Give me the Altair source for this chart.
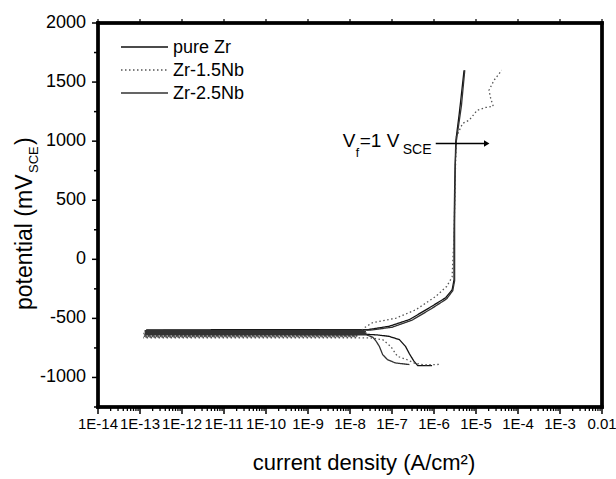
import altair as alt
import pandas as pd

FONT = "Liberation Sans"
W, H = 504, 384

series_names = ["pure Zr", "Zr-1.5Nb", "Zr-2.5Nb"]
series_colors = ["#111111", "#555555", "#333333"]
series_dash = [[1, 0], [1.5, 2.5], [1, 0]]

# pure Zr: current density (A/cm2) and potential (mV SCE), in scan order
purezr_i = [9.0e-7, 4.1e-7, 3.3e-7, 2.6e-7, 2.1e-7, 1.5e-7, 8.5e-8, 4.5e-8, 2.5e-8,
            1.4e-13, 1.8e-8, 1.3e-13, 1.9e-8, 1.4e-13, 2.0e-8, 1.3e-13, 1.8e-8,
            1.4e-13, 2.1e-8, 1.3e-13, 1.9e-8, 1.4e-13, 2.0e-8,
            2.6e-8, 8.5e-8, 2.6e-7, 7.8e-7, 1.9e-6, 2.7e-6, 3.0e-6, 3.0e-6,
            3.1e-6, 3.3e-6, 4.0e-6, 5.2e-6]
purezr_e = [-900, -900, -860, -800, -737, -680, -652, -640, -635,
            -633, -630, -627, -624, -621, -618, -615, -612,
            -609, -606, -603, -600, -597, -595,
            -596, -567, -510, -410, -325, -258, -173, 200,
            600, 1000, 1235, 1600]

# Zr-1.5Nb
nb15_i = [1.3e-6, 6.0e-7, 3.5e-7, 2.3e-7, 1.35e-7, 9.3e-8, 6.0e-8, 3.0e-8,
          1.2e-13, 1.5e-8, 1.3e-13, 1.4e-8, 1.2e-13, 1.6e-8, 1.3e-13, 1.5e-8,
          1.2e-13, 1.4e-8, 1.3e-13, 1.6e-8, 1.2e-13, 1.5e-8,
          1.6e-8, 2.3e-8, 3.4e-8, 1.26e-7, 3.7e-7, 1.1e-6, 2.0e-6, 2.7e-6,
          3.0e-6, 3.2e-6, 3.4e-6, 4.8e-6, 6.9e-6, 1.07e-5, 1.7e-5, 2.57e-5,
          2.24e-5, 2.04e-5, 2.7e-5, 4.1e-5]
nb15_e = [-890, -893, -880, -850, -821, -737, -680, -665,
          -664, -661, -658, -655, -652, -649, -646, -643,
          -640, -637, -634, -631, -628, -625,
          -622, -575, -537, -497, -427, -314, -230, -150,
          200, 700, 1037, 1150, 1178, 1262, 1285, 1296,
          1361, 1431, 1516, 1600]

# Zr-2.5Nb
nb25_i = [2.6e-7, 1.2e-7, 7.8e-8, 6.0e-8, 5.0e-8, 4.2e-8, 3.5e-8, 2.5e-8,
          1.3e-13, 2.4e-8, 1.4e-13, 2.2e-8, 1.3e-13, 2.5e-8, 1.4e-13, 2.3e-8,
          1.3e-13, 2.4e-8, 1.4e-13, 2.2e-8, 1.3e-13, 2.5e-8,
          3.0e-8, 1.0e-7, 3.0e-7, 8.5e-7, 2.0e-6, 2.8e-6, 3.1e-6, 3.1e-6,
          3.2e-6, 3.4e-6, 4.5e-6, 5.4e-6]
nb25_e = [-891, -877, -849, -807, -737, -694, -660, -640,
          -639, -636, -633, -630, -627, -624, -621, -618,
          -615, -612, -609, -606, -603, -600,
          -600, -575, -515, -420, -335, -265, -180, 300,
          800, 1000, 1300, 1600]

x_domain = [1e-14, 1e-2]
y_domain = [-1250, 2000]

# tick labels
x_tick_vals = [1e-14, 1e-13, 1e-12, 1e-11, 1e-10, 1e-9, 1e-8, 1e-7, 1e-6, 1e-5, 1e-4, 1e-3, 1e-2]
x_tick_labels = ["1E-14", "1E-13", "1E-12", "1E-11", "1E-10", "1E-9", "1E-8",
                 "1E-7", "1E-6", "1E-5", "1E-4", "1E-3", "0.01"]
x_minor_vals = [m * 10.0 ** k for k in range(-14, -2) for m in range(2, 10)]
y_tick_vals = [-1000, -500, 0, 500, 1000, 1500, 2000]
y_tick_labels = ["-1000", "-500", "0", "500", "1000", "1500", "2000"]
y_minor_vals = [-1250, -750, -250, 250, 750, 1250, 1750]

# annotation: V_f = 1 V_SCE arrow
ann_x0 = [1.1e-6]
ann_x1 = [1.8e-5]
ann_y = [980]

rows = []
for name, xs, ys in [("pure Zr", purezr_i, purezr_e),
                     ("Zr-1.5Nb", nb15_i, nb15_e),
                     ("Zr-2.5Nb", nb25_i, nb25_e)]:
    for k, (a, b) in enumerate(zip(xs, ys)):
        rows.append({"series": name, "idx": k, "i": a, "E": b})
df = pd.DataFrame(rows)
ann = pd.DataFrame({"x0": ann_x0, "x1": ann_x1, "y": ann_y})
xt = pd.DataFrame({"v": x_tick_vals, "label": x_tick_labels})
xm = pd.DataFrame({"v": x_minor_vals})
yt = pd.DataFrame({"v": y_tick_vals, "label": y_tick_labels})
ym = pd.DataFrame({"v": y_minor_vals})
fr = pd.DataFrame({"side": ["left", "right", "top", "bottom"],
                   "xa": [x_domain[0], x_domain[1], x_domain[0], x_domain[0]],
                   "xb": [x_domain[0], x_domain[1], x_domain[1], x_domain[1]],
                   "ya": [y_domain[0], y_domain[0], y_domain[1], y_domain[0]],
                   "yb": [y_domain[1], y_domain[1], y_domain[1], y_domain[0]]})

xscale = alt.Scale(type="log", domain=x_domain, nice=False)
yscale = alt.Scale(domain=y_domain, nice=False, zero=False)

lines = alt.Chart(df).mark_line(strokeWidth=1.3, clip=True).encode(
    x=alt.X("i:Q", scale=xscale, axis=None),
    y=alt.Y("E:Q", scale=yscale, axis=None),
    color=alt.Color("series:N", scale=alt.Scale(domain=series_names, range=series_colors), legend=None),
    strokeDash=alt.StrokeDash("series:N", scale=alt.Scale(domain=series_names, range=series_dash), legend=None),
    detail="series:N",
    order="idx:Q",
)

# plot frame drawn through the scales at the domain limits
frame = alt.Chart(fr).mark_rule(color="black", strokeWidth=3.5, strokeCap="square").encode(
    x="xa:Q", x2="xb:Q", y="ya:Q", y2="yb:Q")

# manual axes (ticks and labels placed through the shared scales)
x_major_ticks = alt.Chart(xt).mark_rule(color="black", strokeWidth=1.5).encode(
    x="v:Q", y=alt.value(H), y2=alt.value(H + 7))
x_minor_ticks = alt.Chart(xm).mark_rule(color="black", strokeWidth=1.3).encode(
    x="v:Q", y=alt.value(H), y2=alt.value(H + 4))
x_top_ticks = alt.Chart(xt).mark_rule(color="black", strokeWidth=1.2).encode(
    x="v:Q", y=alt.value(-4), y2=alt.value(0))
x_labels = alt.Chart(xt).mark_text(font=FONT, fontSize=15, color="black", baseline="top", align="center").encode(
    x="v:Q", y=alt.value(H + 10), text="label:N")
y_major_ticks = alt.Chart(yt).mark_rule(color="black", strokeWidth=1.5).encode(
    y="v:Q", x=alt.value(-6), x2=alt.value(0))
y_minor_ticks = alt.Chart(ym).mark_rule(color="black", strokeWidth=1.5).encode(
    y="v:Q", x=alt.value(-4), x2=alt.value(0))
y_labels = alt.Chart(yt).mark_text(font=FONT, fontSize=18, color="black", baseline="middle", align="right").encode(
    y="v:Q", x=alt.value(-12), text="label:N")

arrow = alt.Chart(ann).mark_rule(color="black", strokeWidth=1.5).encode(
    x="x0:Q", x2="x1:Q", y="y:Q"
)
head = alt.Chart(ann).mark_point(shape="triangle-right", filled=True, color="black", size=40, opacity=1).encode(
    x="x1:Q", y="y:Q"
)

def ann_text(txt, dx, dy, size):
    return alt.Chart(ann).mark_text(text=txt, align="left", baseline="alphabetic", dx=dx, dy=dy,
                                    font=FONT, fontSize=size, color="black").encode(x="x0:Q", y="y:Q")

ann_layers = [
    ann_text("V", -93, 3, 19),
    ann_text("f", -80, 13, 12),
    ann_text("=1 V", -76, 3, 19),
    ann_text("SCE", -33, 10, 14),
]

# legend
legend_layers = []
ly = [24, 47, 70]
for k, name in enumerate(series_names):
    legend_layers.append(
        alt.Chart(ann).mark_rule(color=series_colors[k], strokeWidth=1.3, strokeDash=series_dash[k]).encode(
            x=alt.value(23), x2=alt.value(70), y=alt.value(ly[k])
        )
    )
    legend_layers.append(
        alt.Chart(ann).mark_text(text=name, align="left", baseline="middle", font=FONT, fontSize=18,
                                 color="black").encode(x=alt.value(75), y=alt.value(ly[k] + 1))
    )

# axis titles
def free_text(txt, x, y, size, angle=0, align="left", baseline="alphabetic"):
    kw = dict(text=txt, align=align, baseline=baseline, font=FONT, fontSize=size, color="black")
    if angle:
        kw["angle"] = angle
    return alt.Chart(ann).mark_text(**kw).encode(x=alt.value(x), y=alt.value(y))

title_layers = [
    free_text("current density (A/cm²)", 266, 447, 22, align="center"),
    free_text("potential (mV", -66, 287, 23, angle=270),
    free_text("SCE", -60, 150, 13, angle=270),
    free_text(")", -66, 122, 23, angle=270),
]

chart = alt.layer(
    lines, frame, x_major_ticks, x_minor_ticks, x_top_ticks, x_labels,
    y_major_ticks, y_minor_ticks, y_labels,
    arrow, head, *ann_layers, *legend_layers, *title_layers
).properties(
    width=W, height=H, autosize="none", background="white",
    padding={"left": 98, "top": 23, "right": 14, "bottom": 72},
).configure_view(stroke="black", strokeWidth=3)

chart.save("out.html", embed_options={"renderer": "svg", "actions": False})
